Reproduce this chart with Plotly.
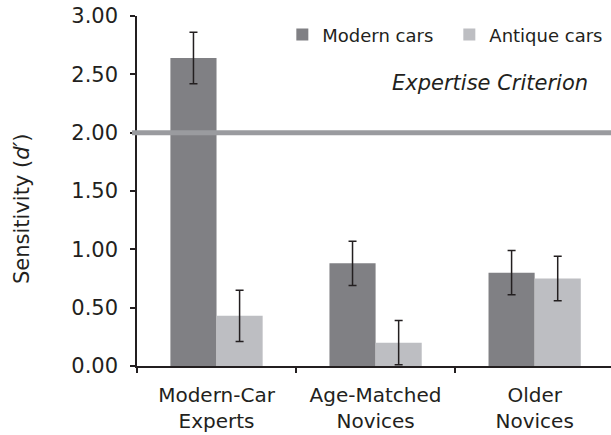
import plotly.graph_objects as go

categories = ["Modern-Car<br>Experts", "Age-Matched<br>Novices", "Older<br>Novices"]
modern_vals = [2.64, 0.88, 0.80]
modern_err = [0.22, 0.19, 0.19]
antique_vals = [0.43, 0.20, 0.75]
antique_err = [0.22, 0.19, 0.19]
criterion = 2.0
y_ticks = [0, 0.5, 1.0, 1.5, 2.0, 2.5, 3.0]

FONT = "DejaVu Sans, Verdana, sans-serif"
TXT = "#231f20"

L, T, PW, PH = 137, 16, 474, 350

fig = go.Figure()
fig.add_trace(go.Bar(
    name="Modern cars", x=categories, y=modern_vals,
    marker=dict(color="#808084", line=dict(width=0)),
    error_y=dict(type="data", array=modern_err, color="#231f20", thickness=1.5, width=4),
))
fig.add_trace(go.Bar(
    name="Antique cars", x=categories, y=antique_vals,
    marker=dict(color="#bdbec2", line=dict(width=0)),
    error_y=dict(type="data", array=antique_err, color="#231f20", thickness=1.5, width=4),
))

fig.add_shape(type="line", xref="paper", yref="y", x0=-0.0105, x1=1.0,
              y0=criterion, y1=criterion, line=dict(color="#9a9b9f", width=5), layer="above")

fig.add_annotation(text="<i>Expertise Criterion</i>", xref="paper", yref="y",
                   x=0.956, y=2.43, xanchor="right", yanchor="middle", showarrow=False,
                   font=dict(family=FONT, size=21, color=TXT))
fig.add_annotation(text="Sensitivity (<i>d′</i>)", xref="paper", yref="paper",
                   x=(22 - L) / PW, y=(366 - 209) / PH, xanchor="center", yanchor="middle",
                   showarrow=False, textangle=-90,
                   font=dict(family=FONT, size=21, color=TXT))

fig.update_layout(
    width=611, height=435,
    margin=dict(l=L, r=0, t=T, b=69, pad=0, autoexpand=False),
    plot_bgcolor="white", paper_bgcolor="white",
    barmode="group", bargap=0.42, bargroupgap=0,
    font=dict(family=FONT, size=21, color=TXT),
    showlegend=True,
    legend=dict(orientation="h", x=0.3066, y=0.946, xanchor="left", yanchor="middle",
                font=dict(family=FONT, size=18, color=TXT), itemwidth=30,
                entrywidth=122, entrywidthmode="pixels",
                bgcolor="rgba(0,0,0,0)", traceorder="normal"),
    xaxis=dict(range=[-0.5, 2.48], showline=True, linecolor="#231f20", linewidth=1.5,
               ticks="outside", tickson="boundaries", ticklen=5, tickcolor="#231f20",
               tickwidth=1.5, showgrid=False, zeroline=False, ticklabelstandoff=10,
               automargin=False,
               tickfont=dict(family=FONT, size=20, color=TXT)),
    yaxis=dict(range=[0, 3], tickvals=y_ticks, tickformat=".2f", showline=True,
               linecolor="#231f20", linewidth=1.5, ticks="outside", ticklen=5,
               tickcolor="#231f20", tickwidth=1.5, showgrid=False, zeroline=False,
               ticklabelstandoff=8, automargin=False,
               tickfont=dict(family=FONT, size=21, color=TXT)),
)

fig.write_html("out.html", config={"displayModeBar": False},
               post_script="document.body.style.margin='0px';document.body.style.overflow='hidden';")
